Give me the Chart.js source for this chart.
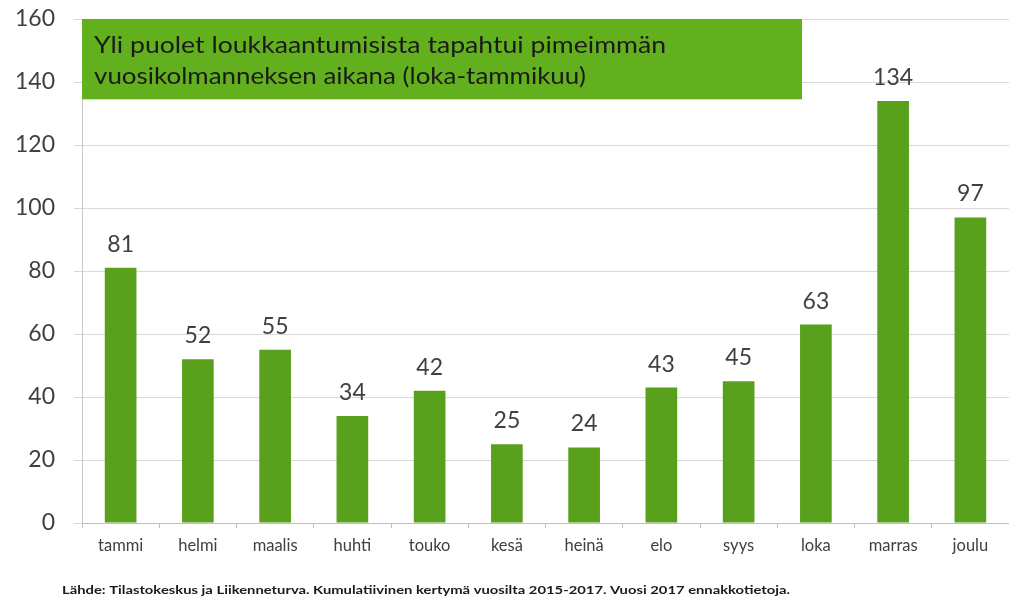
<!DOCTYPE html>
<html><head><meta charset="utf-8">
<script src="https://cdn.jsdelivr.net/npm/chart.js@4/dist/chart.umd.min.js"></script>
<style>html,body{margin:0;padding:0;background:#fff}#wrap{width:1009px;height:596px;position:relative}</style>
</head><body><div id="wrap"><canvas id="c"></canvas></div>
<script>
const categories = ["tammi","helmi","maalis","huhti","touko","kesä","heinä","elo","syys","loka","marras","joulu"];
const values = [81,52,55,34,42,25,24,43,45,63,134,97];
const yTicks = [0,20,40,60,80,100,120,140,160];
const boxLines = ["Yli puolet loukkaantumisista tapahtui pimeimmän","vuosikolmanneksen aikana (loka-tammikuu)"];
const footer = "Lähde: Tilastokeskus ja Liikenneturva. Kumulatiivinen kertymä vuosilta 2015-2017. Vuosi 2017 ennakkotietoja.";
const FONT = "Lato, 'Open Sans', sans-serif";

function fitText(ctx, text, x, y, targetW) {
  const w = ctx.measureText(text).width;
  ctx.save();
  ctx.translate(x, y);
  ctx.scale(targetW / w, 1);
  ctx.fillText(text, 0, 0);
  ctx.restore();
}

const extras = {
  id: 'extras',
  afterDatasetsDraw(chart) {
    const ctx = chart.ctx, ca = chart.chartArea;
    const meta = chart.getDatasetMeta(0);
    ctx.save();
    ctx.fillStyle = '#404040';
    ctx.font = '23px ' + FONT;
    ctx.textAlign = 'center'; ctx.textBaseline = 'alphabetic';
    meta.data.forEach((bar, i) => { ctx.fillText(String(values[i]), bar.x, bar.y - 16); });
    // box
    const y = chart.scales.y;
    const x0 = ca.left, x1 = ca.left + 720;
    const yt = y.getPixelForValue(160), yb = y.getPixelForValue(134.5);
    ctx.fillStyle = '#62b01e';
    ctx.fillRect(x0, yt, x1 - x0, yb - yt);
    ctx.fillStyle = '#1a1a1a';
    ctx.font = '23px ' + FONT;
    ctx.textAlign = 'left'; ctx.textBaseline = 'alphabetic';
    fitText(ctx, boxLines[0], x0 + 12, yt + 34, 572);
    fitText(ctx, boxLines[1], x0 + 12, yt + 65, 492);
    // footer
    ctx.fillStyle = '#1a1a1a';
    ctx.font = 'bold 11px ' + FONT;
    ctx.textBaseline = 'middle';
    fitText(ctx, footer, 62, 590, 728);
    ctx.restore();
  }
};

new Chart(document.getElementById('c'), {
  type: 'bar',
  data: { labels: categories, datasets: [{ data: values, backgroundColor: '#59a01c', barPercentage: 0.41, categoryPercentage: 1 }] },
  options: {
    responsive: true, maintainAspectRatio: false, animation: false,
    layout: { padding: { top: 19, right: 0, bottom: 33, left: 0 } },
    plugins: { legend: { display: false }, tooltip: { enabled: false } },
    scales: {
      y: {
        min: 0, max: 160,
        afterFit(s) { s.width = 82; s.paddingTop = 0; s.paddingBottom = 0; },
        afterBuildTicks(s) { s.ticks = yTicks.map(v => ({ value: v })); },
        ticks: { color: '#404040', font: { size: 23, family: FONT }, padding: 19 },
        grid: { color: '#d9d9d9', lineWidth: 1, drawTicks: true, tickLength: 8 },
        border: { display: true, color: '#c8c8c8' }
      },
      x: {
        afterFit(s) { s.height = 40; s.paddingLeft = 0; s.paddingRight = 0; },
        ticks: { color: '#404040', font: { size: 16.5, family: FONT }, padding: 8 },
        grid: { offset: true, drawOnChartArea: false, tickLength: 5, color: '#bfbfbf' },
        border: { color: '#bfbfbf' }
      }
    }
  },
  plugins: [extras]
});
</script></body></html>
